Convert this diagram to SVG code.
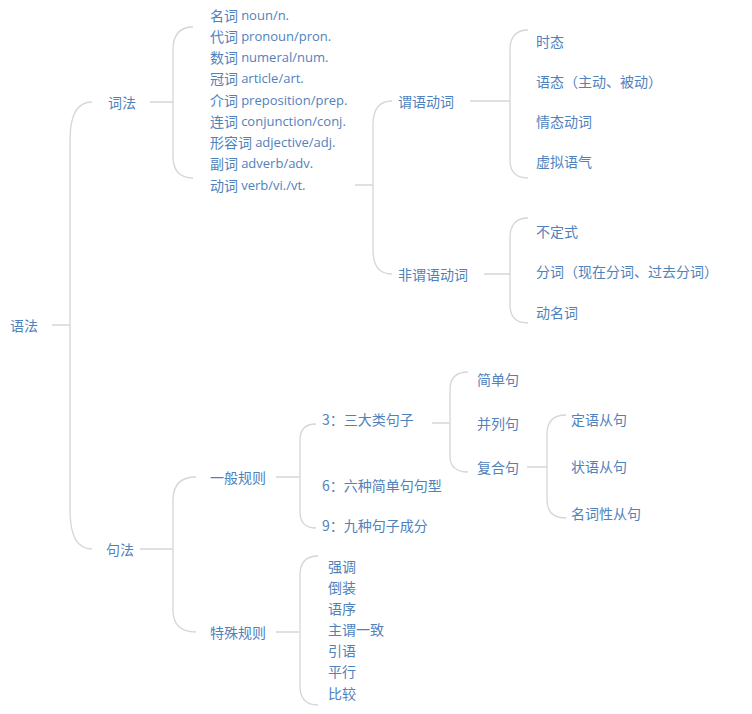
<svg xmlns="http://www.w3.org/2000/svg" width="752" height="714" viewBox="0 0 752 714">
<style>
text{font-family:"Noto Sans CJK SC","Microsoft YaHei",sans-serif;font-size:14px;fill:#4f82bd;dominant-baseline:central}
.e{font-family:"Open Sans","Noto Sans",sans-serif;font-size:13px}
#connectors path{fill:none;stroke:#d3d6db;stroke-width:1.3}
</style>
<rect width="752" height="714" fill="#fff"/>
<g id="connectors">
<path d="M52,325 H70 M92,102 Q70,102 70,140 V510 Q70,549 92,549"/>
<path d="M150,102 H173 M193,27 Q173,27 173,50 V156 Q173,178 193,178"/>
<path d="M355,185 H373 M392,101 Q373,101 373,125 V250 Q373,274 392,274"/>
<path d="M470,101 H510 M528,30 Q510,30 510,50 V160 Q510,178 528,178"/>
<path d="M484,274 H510 M528,218 Q510,218 510,238 V305 Q510,323 528,323"/>
<path d="M140,549 H173 M196,477 Q173,477 173,500 V610 Q173,632 196,632"/>
<path d="M276,477 H300 M316,424 Q300,424 300,440 V512 Q300,528 316,528"/>
<path d="M432,423 H450 M468,372 Q450,372 450,390 V456 Q450,472 468,472"/>
<path d="M527,467 H547 M566,415 Q547,415 547,434 V500 Q547,518 566,518"/>
<path d="M276,632 H300 M318,556 Q300,556 300,575 V686 Q300,705 318,705"/>
</g>
<g id="root"><text x="10" y="325">语法</text></g>
<g id="cifa"><text x="108" y="102">词法</text></g>
<g id="words">
<text x="210" y="15">名词 <tspan class="e">noun/n.</tspan></text>
<text x="210" y="36">代词 <tspan class="e">pronoun/pron.</tspan></text>
<text x="210" y="57">数词 <tspan class="e">numeral/num.</tspan></text>
<text x="210" y="78">冠词 <tspan class="e">article/art.</tspan></text>
<text x="210" y="100">介词 <tspan class="e">preposition/prep.</tspan></text>
<text x="210" y="121">连词 <tspan class="e">conjunction/conj.</tspan></text>
<text x="210" y="142">形容词 <tspan class="e">adjective/adj.</tspan></text>
<text x="210" y="163">副词 <tspan class="e">adverb/adv.</tspan></text>
<text x="210" y="185">动词 <tspan class="e">verb/vi./vt.</tspan></text>
</g>
<g id="weiyu"><text x="398" y="101">谓语动词</text></g>
<g id="feiweiyu"><text x="398" y="274">非谓语动词</text></g>
<g id="weiyu-kids">
<text x="536" y="41">时态</text>
<text x="536" y="81">语态（主动、被动）</text>
<text x="536" y="121">情态动词</text>
<text x="536" y="161">虚拟语气</text>
</g>
<g id="feiweiyu-kids">
<text x="536" y="231">不定式</text>
<text x="536" y="271">分词（现在分词、过去分词）</text>
<text x="536" y="312">动名词</text>
</g>
<g id="jufa"><text x="106" y="549">句法</text></g>
<g id="yiban"><text x="210" y="477">一般规则</text></g>
<g id="teshu"><text x="210" y="632">特殊规则</text></g>
<g id="yiban-kids">
<text x="322" y="419">3：三大类句子</text>
<text x="322" y="485">6：六种简单句句型</text>
<text x="322" y="525">9：九种句子成分</text>
</g>
<g id="sanda-kids">
<text x="477" y="379">简单句</text>
<text x="477" y="423">并列句</text>
<text x="477" y="467">复合句</text>
</g>
<g id="fuhe-kids">
<text x="571" y="419">定语从句</text>
<text x="571" y="466">状语从句</text>
<text x="571" y="513">名词性从句</text>
</g>
<g id="teshu-kids">
<text x="328" y="566">强调</text>
<text x="328" y="587">倒装</text>
<text x="328" y="608">语序</text>
<text x="328" y="629">主谓一致</text>
<text x="328" y="650">引语</text>
<text x="328" y="671">平行</text>
<text x="328" y="693">比较</text>
</g>
</svg>
